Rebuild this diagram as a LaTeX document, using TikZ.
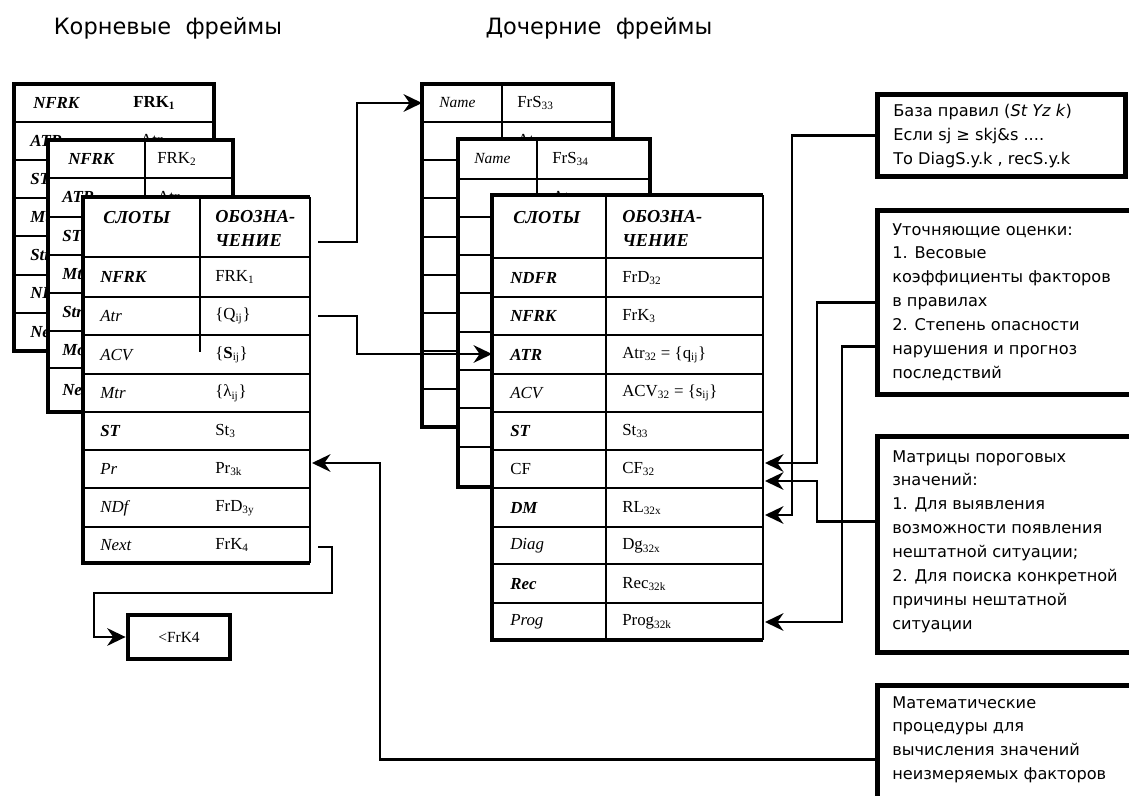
\documentclass[tikz,border=0pt]{standalone}
\usepackage{fontspec}
\setmainfont{Liberation Serif}
\newfontfamily\notefont{DejaVu Sans}
\usetikzlibrary{arrows.meta,calc}

\begin{document}
\begin{tikzpicture}[x=0.025cm,y=-0.025cm,
  frm/.style={line width=3.4pt},
  row/.style={line width=1.1pt},
  slot/.style={anchor=west,inner sep=0pt,font=\fontsize{12}{14}\selectfont\itshape},
  bslot/.style={anchor=west,inner sep=0pt,font=\fontsize{12}{14}\selectfont\bfseries\itshape},
  val/.style={anchor=west,inner sep=0pt,font=\fontsize{12}{14}\selectfont},
  head/.style={anchor=west,inner sep=0pt,align=left,font=\fontsize{13}{17}\selectfont\bfseries\itshape},
  note/.style={draw,line width=3.4pt,anchor=north west,inner sep=0pt},
  notetext/.style={anchor=north west,inner sep=0pt,align=left,font=\notefont\fontsize{11.5}{17}\selectfont},
  title/.style={font=\notefont\fontsize{16}{19}\selectfont},
  link/.style={line width=1.7pt,-{Stealth[length=4.6mm,width=4.4mm,inset=1.5mm]}}]
  \useasboundingbox (0,0) rectangle (1129,795);
  \clip (0,0) rectangle (1129,795);
  \fill[white] (0,0) rectangle (1129,795);

  % titles
  \node[title] (roottitle) at (168,28) {Корневые\ \ фреймы};
  \node[title] (childtitle) at (599,28) {Дочерние\ \ фреймы};

  % root frame 1 (back)
  \filldraw[fill=white,frm] (14,84) rectangle (214,351);
  \draw[row] (14,122) -- (214,122);
  \foreach \yy in {160,198,236,275,313} \draw[row] (14,\yy) -- (214,\yy);
  \node[bslot] (l1h) at (33,103) {NFRK};
  \node[val,font=\fontsize{12}{14}\selectfont\bfseries] (l1hv) at (133,103) {FRK\textsubscript{1}};
  \node[val] (l1v) at (140,141) {Atr\textsubscript{1}};
  \foreach \lab/\yy [count=\i] in {ATR/141,ST/179,Mtr/217,Str/255,NDf/294,Next/332}
    \node[bslot] (l1s\i) at (30,\yy) {\lab};

  % root frame 2
  \filldraw[fill=white,frm] (48,140) rectangle (233,412);
  \draw[row] (48,178) -- (233,178);
  \draw[row] (145,140) -- (145,412);
  \foreach \yy in {217,255,293,331,368} \draw[row] (48,\yy) -- (233,\yy);
  \node[bslot] (l2h) at (68,159) {NFRK};
  \node[val] (l2hv) at (157,159) {FRK\textsubscript{2}};
  \node[val] (l2v) at (157,198) {Atr\textsubscript{2}};
  \foreach \lab/\yy [count=\i] in {ATR/197,ST/236,Mtr/274,Str/312,Mod/350,Next/390}
    \node[bslot] (l2s\i) at (62,\yy) {\lab};

  % root frame 3 (front)
  \fill[white] (83,197) rectangle (310,563);
  \draw[frm] (310,197) -- (83,197) -- (83,563) -- (310,563);
  \draw[row] (310,197) -- (310,563);
  \draw[line width=2pt] (83,257) -- (310,257);
  \draw[line width=1.6pt] (200,197) -- (200,352);
  \foreach \yy in {297,335,374,412,450,488,527} \draw[row] (83,\yy) -- (310,\yy);
  \node[head] (l3h1) at (103,218) {СЛОТЫ};
  \node[head,anchor=north west] (l3h2) at (215,210) {ОБОЗНА-\\ЧЕНИЕ};
  \foreach \lab/\val/\yy [count=\i] in {
      {\bfseries NFRK}/FRK\textsubscript{1}/277,
      Atr/\{Q\textsubscript{ij}\}/316,
      ACV/\{\textbf{S}\textsubscript{ij}\}/355,
      Mtr/\{λ\textsubscript{ij}\}/393,
      {\bfseries ST}/St\textsubscript{3}/431,
      Pr/Pr\textsubscript{3k}/469,
      NDf/FrD\textsubscript{3y}/508,
      Next/FrK\textsubscript{4}/545} {
    \node[slot] (l3s\i) at (100,\yy) {\lab};
    \node[val] (l3v\i) at (215,\yy) {\val};
  }

  % child frame 1 (back)
  \filldraw[fill=white,frm] (422,84) rectangle (613,427);
  \draw[row] (422,122) -- (613,122);
  \draw[row] (502,84) -- (502,427);
  \foreach \yy in {160,198,237,275,313,351,389} \draw[row] (422,\yy) -- (613,\yy);
  \node[slot,font=\fontsize{11}{13}\selectfont\itshape] (r1h) at (439,103) {Name};
  \node[val] (r1hv) at (517,103) {FrS\textsubscript{33}};
  \node[val] (r1v) at (517,141) {Atr\textsubscript{33}};

  % child frame 2
  \filldraw[fill=white,frm] (458,139) rectangle (650,487);
  \draw[row] (458,179) -- (650,179);
  \draw[row] (537,139) -- (537,487);
  \foreach \yy in {217,255,293,332,370,408,447} \draw[row] (458,\yy) -- (650,\yy);
  \node[slot,font=\fontsize{11}{13}\selectfont\itshape] (r2h) at (474,159) {Name};
  \node[val] (r2hv) at (552,159) {FrS\textsubscript{34}};
  \node[val] (r2v) at (552,198) {Atr\textsubscript{34}};

  % child frame 3 (front)
  \fill[white] (492,195) rectangle (763,640);
  \draw[frm] (763,195) -- (492,195) -- (492,640) -- (763,640);
  \draw[row] (763,195) -- (763,640);
  \draw[line width=2pt] (492,258) -- (763,258);
  \draw[line width=1.6pt] (606,195) -- (606,640);
  \foreach \yy in {297,335,374,412,450,488,527,564,603} \draw[row] (492,\yy) -- (763,\yy);
  \node[head] (r3h1) at (513,218) {СЛОТЫ};
  \node[head,anchor=north west] (r3h2) at (622,210) {ОБОЗНА-\\ЧЕНИЕ};
  \foreach \lab/\val/\yy [count=\i] in {
      {\bfseries NDFR}/FrD\textsubscript{32}/278,
      {\bfseries NFRK}/FrK\textsubscript{3}/316,
      {\bfseries ATR}/Atr\textsubscript{32} = \{q\textsubscript{ij}\}/355,
      ACV/ACV\textsubscript{32} = \{s\textsubscript{ij}\}/393,
      {\bfseries ST}/St\textsubscript{33}/431,
      {\upshape CF}/CF\textsubscript{32}/469,
      {\bfseries DM}/RL\textsubscript{32x}/508,
      Diag/Dg\textsubscript{32x}/546,
      {\bfseries Rec}/Rec\textsubscript{32k}/584,
      Prog/Prog\textsubscript{32k}/622} {
    \node[slot] (r3s\i) at (510,\yy) {\lab};
    \node[val] (r3v\i) at (622,\yy) {\val};
  }

  % side boxes
  \node[note,minimum width=6.2cm,minimum height=2.05cm] (rules) at (875,92) {};
  \node[notetext] (rulestext) at ([shift={(18,12)}]rules.north west)
    {База правил (\textit{St Yz k})\\Если sj ≥ skj\&s ....\\То DiagS.y.k , recS.y.k};
  \node[note,minimum width=7cm,minimum height=4.6cm] (refine) at (875,208) {};
  \node[notetext] (refinetext) at ([shift={(17,15)}]refine.north west)
    {Уточняющие оценки:\\1. Весовые\\коэффициенты факторов\\в правилах\\2. Степень опасности\\нарушения и прогноз\\последствий};
  \node[note,minimum width=7cm,minimum height=5.4cm] (thresh) at (875,434) {};
  \node[notetext] (threshtext) at ([shift={(17,16)}]thresh.north west)
    {Матрицы пороговых\\значений:\\1. Для выявления\\возможности появления\\нештатной ситуации;\\2. Для поиска конкретной\\причины нештатной\\ситуации};
  \node[note,minimum width=7cm,minimum height=3.7cm] (procs) at (875,683) {};
  \node[notetext] (procstext) at ([shift={(17,13)}]procs.north west)
    {Математические\\процедуры для\\вычисления значений\\неизмеряемых факторов};
  \node[note,anchor=center,minimum width=2.55cm,minimum height=1.1cm,
        font=\fontsize{11}{13}\selectfont] (fk4) at (179,637) {<FrK4};

  % connector ends on the frames
  \coordinate (l3hd) at (318,242);
  \coordinate (l3atr) at (318,316);
  \coordinate (l3pr) at (312,463);
  \coordinate (l3next) at (318,547);
  \coordinate (r1name) at (422,103);
  \coordinate (r3atr) at (492,354);
  \coordinate (r3cf1) at (765,463);
  \coordinate (r3cf2) at (765,481);
  \coordinate (r3dm) at (765,515);
  \coordinate (r3prog) at (765,622);

  % links between frames
  \draw[link] (l3hd) -- ++(39,0) |- (r1name);
  \draw[link] (l3atr) -- ++(39,0) |- (r3atr);
  \draw[link] (l3next) -- ++(14,0) -- ++(0,46) -- ++(-238,0) |- (fk4.west);
  \draw[link] (procs.west) -| ($(l3pr)+(68,0)$) -- (l3pr);
  % links from the side boxes
  \draw[link] (rules.west) -| ($(r3dm)+(27,0)$) -- (r3dm);
  \draw[link] (refine.west) -| ($(r3cf1)+(52,0)$) -- (r3cf1);
  \draw[link] ($(refine.west)+(0,44)$) -| ($(r3prog)+(77,0)$) -- (r3prog);
  \draw[link] ($(thresh.west)+(0,-23)$) -| ($(r3cf2)+(52,0)$) -- (r3cf2);
\end{tikzpicture}
\end{document}
